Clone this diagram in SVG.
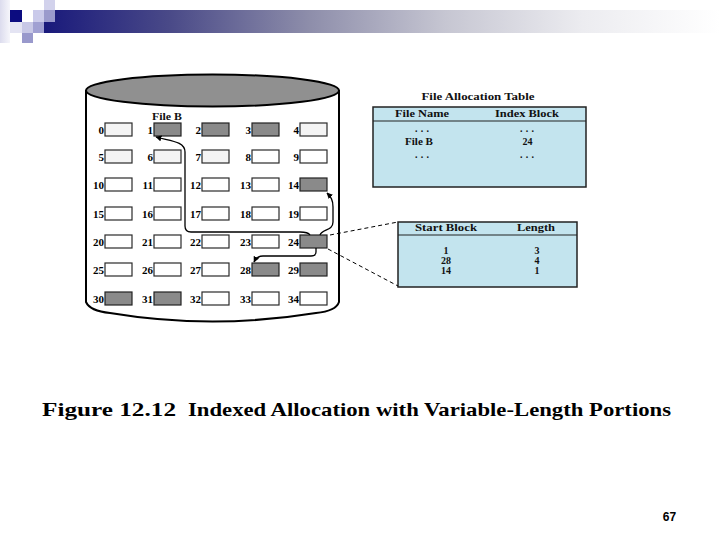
<svg xmlns="http://www.w3.org/2000/svg" width="720" height="540" viewBox="0 0 720 540">
<defs>
<linearGradient id="band" x1="0" y1="0" x2="1" y2="0">
<stop offset="0" stop-color="#15157a"/>
<stop offset="0.2" stop-color="#4a4a88"/>
<stop offset="0.4" stop-color="#8d8daa"/>
<stop offset="0.6" stop-color="#c6c6d2"/>
<stop offset="0.8" stop-color="#ececf0"/>
<stop offset="1" stop-color="#ffffff"/>
</linearGradient>
<linearGradient id="leftfade" x1="0" y1="0" x2="1" y2="0">
<stop offset="0" stop-color="#dcdcee"/>
<stop offset="1" stop-color="#f6f6fb"/>
</linearGradient>
<marker id="ah" viewBox="0 0 10 10" refX="9" refY="5" markerWidth="6" markerHeight="6" orient="auto" markerUnits="userSpaceOnUse">
<path d="M0,0 L10,5 L0,10 z" fill="#000"/>
</marker>
<style>
.blk{fill:#ffffff;stroke:#2a2a2a;stroke-width:1.2}
.lt{fill:#f4f4f4}
.sh{fill:#8a8a8a;stroke:#222}
.num{font-family:"Liberation Serif","Times New Roman",serif;font-weight:bold;font-size:11px;fill:#000;text-anchor:end}
.tb{font-family:"Liberation Serif","Times New Roman",serif;font-weight:bold;font-size:10px;fill:#111;text-anchor:middle}
.tbl{fill:#c3e4ee;stroke:#222;stroke-width:1.5}
.conn{fill:none;stroke:#000;stroke-width:1.3}
.dash{fill:none;stroke:#000;stroke-width:1;stroke-dasharray:4,3}
.cap{font-family:"Liberation Serif","Times New Roman",serif;font-weight:bold;font-size:19px;fill:#000}
</style>
</defs>
<rect width="720" height="540" fill="#fff"/>
<!-- header decoration -->
<g id="header">
<rect x="0" y="0" width="10" height="43" fill="url(#leftfade)"/>
<rect x="33" y="10" width="687" height="23" fill="url(#band)"/>
<rect x="10" y="10" width="12" height="12" fill="#0c0c80"/>
<rect x="10" y="22" width="12" height="11" fill="#e4e4f3"/>
<rect x="22" y="22" width="11" height="11" fill="#c8c8e6"/>
<rect x="22" y="33" width="11" height="10" fill="#9999cc"/>
<rect x="33" y="10" width="11" height="12" fill="#cacaea"/>
<rect x="33" y="22" width="11" height="11" fill="#a0a0d2"/>
<rect x="44" y="0" width="11" height="10" fill="#d2d2ec"/>
<rect x="44" y="10" width="11" height="12" fill="#9a9acc"/>
</g>
<!-- disk cylinder -->
<g id="disk">
<path d="M86,90 L86,302 Q90,311 110,313 Q212,330 316,313 Q336,311 339,302 L339,90" fill="#fff" stroke="#000" stroke-width="2"/>
<ellipse cx="212.5" cy="90.5" rx="126.5" ry="16" fill="#909090" stroke="#000" stroke-width="2"/>
</g>
<g id="fileB-label"><text class="tb" x="167" y="119.5" font-size="10.5" textLength="30" lengthAdjust="spacingAndGlyphs">File B</text></g>
<!-- blocks -->
<g id="block-0"><rect class="blk lt" x="105" y="123" width="27" height="13"/><text class="num" x="104" y="133.5">0</text></g>
<g id="block-1"><rect class="blk sh" x="154" y="123" width="27" height="13"/><text class="num" x="153" y="133.5">1</text></g>
<g id="block-2"><rect class="blk sh" x="202" y="123" width="27" height="13"/><text class="num" x="201" y="133.5">2</text></g>
<g id="block-3"><rect class="blk sh" x="252" y="123" width="27" height="13"/><text class="num" x="251" y="133.5">3</text></g>
<g id="block-4"><rect class="blk lt" x="300" y="123" width="27" height="13"/><text class="num" x="299" y="133.5">4</text></g>

<g id="block-5"><rect class="blk lt" x="105" y="150" width="27" height="13"/><text class="num" x="104" y="160.5">5</text></g>
<g id="block-6"><rect class="blk lt" x="154" y="150" width="27" height="13"/><text class="num" x="153" y="160.5">6</text></g>
<g id="block-7"><rect class="blk lt" x="202" y="150" width="27" height="13"/><text class="num" x="201" y="160.5">7</text></g>
<g id="block-8"><rect class="blk" x="252" y="150" width="27" height="13"/><text class="num" x="251" y="160.5">8</text></g>
<g id="block-9"><rect class="blk" x="300" y="150" width="27" height="13"/><text class="num" x="299" y="160.5">9</text></g>

<g id="block-10"><rect class="blk" x="105" y="178" width="27" height="13"/><text class="num" x="104" y="188.5">10</text></g>
<g id="block-11"><rect class="blk" x="154" y="178" width="27" height="13"/><text class="num" x="153" y="188.5">11</text></g>
<g id="block-12"><rect class="blk" x="202" y="178" width="27" height="13"/><text class="num" x="201" y="188.5">12</text></g>
<g id="block-13"><rect class="blk" x="252" y="178" width="27" height="13"/><text class="num" x="251" y="188.5">13</text></g>
<g id="block-14"><rect class="blk sh" x="300" y="178" width="27" height="13"/><text class="num" x="299" y="188.5">14</text></g>

<g id="block-15"><rect class="blk" x="105" y="207" width="27" height="13"/><text class="num" x="104" y="217.5">15</text></g>
<g id="block-16"><rect class="blk" x="154" y="207" width="27" height="13"/><text class="num" x="153" y="217.5">16</text></g>
<g id="block-17"><rect class="blk" x="202" y="207" width="27" height="13"/><text class="num" x="201" y="217.5">17</text></g>
<g id="block-18"><rect class="blk" x="252" y="207" width="27" height="13"/><text class="num" x="251" y="217.5">18</text></g>
<g id="block-19"><rect class="blk" x="300" y="207" width="27" height="13"/><text class="num" x="299" y="217.5">19</text></g>

<g id="block-20"><rect class="blk" x="105" y="235" width="27" height="13"/><text class="num" x="104" y="245.5">20</text></g>
<g id="block-21"><rect class="blk" x="154" y="235" width="27" height="13"/><text class="num" x="153" y="245.5">21</text></g>
<g id="block-22"><rect class="blk" x="202" y="235" width="27" height="13"/><text class="num" x="201" y="245.5">22</text></g>
<g id="block-23"><rect class="blk" x="252" y="235" width="27" height="13"/><text class="num" x="251" y="245.5">23</text></g>
<g id="block-24"><rect class="blk sh" x="300" y="235" width="27" height="13"/><text class="num" x="299" y="245.5">24</text></g>

<g id="block-25"><rect class="blk" x="105" y="263" width="27" height="13"/><text class="num" x="104" y="273.5">25</text></g>
<g id="block-26"><rect class="blk" x="154" y="263" width="27" height="13"/><text class="num" x="153" y="273.5">26</text></g>
<g id="block-27"><rect class="blk" x="202" y="263" width="27" height="13"/><text class="num" x="201" y="273.5">27</text></g>
<g id="block-28"><rect class="blk sh" x="252" y="263" width="27" height="13"/><text class="num" x="251" y="273.5">28</text></g>
<g id="block-29"><rect class="blk sh" x="300" y="263" width="27" height="13"/><text class="num" x="299" y="273.5">29</text></g>

<g id="block-30"><rect class="blk sh" x="105" y="292" width="27" height="13"/><text class="num" x="104" y="302.5">30</text></g>
<g id="block-31"><rect class="blk sh" x="154" y="292" width="27" height="13"/><text class="num" x="153" y="302.5">31</text></g>
<g id="block-32"><rect class="blk" x="202" y="292" width="27" height="13"/><text class="num" x="201" y="302.5">32</text></g>
<g id="block-33"><rect class="blk" x="252" y="292" width="27" height="13"/><text class="num" x="251" y="302.5">33</text></g>
<g id="block-34"><rect class="blk" x="300" y="292" width="27" height="13"/><text class="num" x="299" y="302.5">34</text></g>

<!-- File Allocation Table -->
<g id="fat">
<text class="tb" x="478" y="100" font-size="11" textLength="113" lengthAdjust="spacingAndGlyphs">File Allocation Table</text>
<rect class="tbl" x="373" y="107" width="213" height="80"/>
<line x1="373" y1="121" x2="586" y2="121" stroke="#222" stroke-width="1.2"/>
<text class="tb" x="422" y="117" textLength="54" lengthAdjust="spacingAndGlyphs">File Name</text>
<text class="tb" x="527" y="117" textLength="64" lengthAdjust="spacingAndGlyphs">Index Block</text>
<text class="tb" x="422" y="132" textLength="14" lengthAdjust="spacing">...</text>
<text class="tb" x="527" y="132" textLength="14" lengthAdjust="spacing">...</text>
<text class="tb" x="419" y="145" font-size="11" textLength="28" lengthAdjust="spacingAndGlyphs">File B</text>
<text class="tb" x="527.5" y="145" font-size="11">24</text>
<text class="tb" x="422" y="158" textLength="14" lengthAdjust="spacing">...</text>
<text class="tb" x="527" y="158" textLength="14" lengthAdjust="spacing">...</text>
</g>
<!-- Index block table -->
<g id="index-block">
<rect class="tbl" x="398" y="222" width="179" height="65"/>
<line x1="398" y1="235" x2="577" y2="235" stroke="#222" stroke-width="1.2"/>
<text class="tb" x="446" y="231" textLength="62" lengthAdjust="spacingAndGlyphs">Start Block</text>
<text class="tb" x="536" y="231" textLength="38" lengthAdjust="spacingAndGlyphs">Length</text>
<text class="tb" x="446" y="254">1</text>
<text class="tb" x="446" y="264">28</text>
<text class="tb" x="446" y="274">14</text>
<text class="tb" x="537" y="254">3</text>
<text class="tb" x="537" y="264">4</text>
<text class="tb" x="537" y="274">1</text>
</g>
<!-- connectors -->
<g id="connectors">
<path class="conn" marker-end="url(#ah)" d="M310,235 Q308,232 300,232 L191,232 Q185,232 185,226 L185,152 C185,141 170,141 156,137"/>
<path class="conn" marker-end="url(#ah)" d="M320,235 C322,229 333,231 333,222 L333,207 C333,200 331,197 327,193"/>
<path class="conn" marker-end="url(#ah)" d="M316,248 L316,252 Q316,256 311,256 L263,256 Q257,256 254,262"/>
<path class="dash" d="M330,235 L398,222"/>
<path class="dash" d="M328,249 L398,286"/>
</g>
<!-- caption -->
<g id="caption">
<text class="cap" x="42" y="416" textLength="134" lengthAdjust="spacingAndGlyphs">Figure 12.12</text>
<text class="cap" x="188" y="416" textLength="483" lengthAdjust="spacingAndGlyphs">Indexed Allocation with Variable-Length Portions</text>
</g>
<g id="page-number"><text x="669.5" y="521" font-family="'Liberation Sans',Arial,sans-serif" font-weight="bold" font-size="12" text-anchor="middle" fill="#000">67</text></g>
</svg>
